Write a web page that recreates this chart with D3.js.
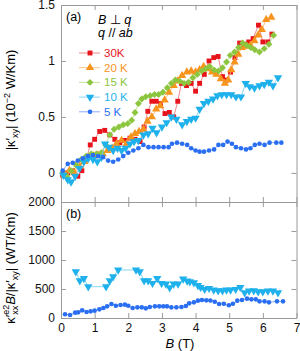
<!DOCTYPE html>
<html>
<head>
<meta charset="utf-8">
<script src="https://cdn.jsdelivr.net/npm/d3@7"></script>
<style>
  body { margin: 0; background: #fff; }
  svg { font-family: "Liberation Sans", Arial, sans-serif; }
  .axis path, .axis line { stroke: #9a9a9a; }
  .axis text { font-size: 12px; fill: #111; }
</style>
</head>
<body>
<svg id="chart"></svg>
<script>
// panel (a): |k'xy| vs B, in 10^-2 W/Km
const b30 = [0.05,0.2,0.35,0.5,0.62,0.75,0.87,1.0,1.15,1.3,1.45,1.6,1.75,1.9,2.05,2.2,2.35,2.47,2.58,2.7,2.83,2.96,3.09,3.22,3.35,3.47,3.58,3.73,3.87,4.0,4.12,4.26,4.4,4.54,4.67,4.8,4.92,5.04,5.17,5.31,5.46,5.58,5.71,5.87,6.0,6.15,6.27]
const k30 = [-0.02,0.0,0.02,-0.03,0.02,0.12,0.25,0.3,0.37,0.38,0.34,0.3,0.27,0.29,0.31,0.3,0.28,0.41,0.55,0.64,0.64,0.62,0.53,0.54,0.5,0.64,0.8,0.78,0.8,0.73,0.8,0.88,1.0,1.03,1.04,0.86,0.83,0.9,1.03,1.16,1.15,1.17,1.2,1.32,1.17,1.17,1.24]

const b20 = [0.1,0.25,0.4,0.56,0.7,0.83,0.97,1.1,1.24,1.38,1.52,1.65,1.8,1.95,2.08,2.2,2.32,2.45,2.57,2.7,2.83,2.95,3.08,3.21,3.35,3.47,3.6,3.74,3.87,4.0,4.12,4.24,4.36,4.49,4.62,4.75,4.87,4.97,5.06,5.16,5.27,5.38,5.5,5.63,5.75,5.86,5.97,6.1,6.25]
const k20 = [-0.02,0.02,0.0,0.06,0.1,0.14,0.15,0.16,0.17,0.2,0.22,0.26,0.29,0.26,0.32,0.35,0.37,0.39,0.46,0.5,0.57,0.6,0.65,0.72,0.78,0.82,0.87,0.9,0.91,0.9,0.92,0.95,0.93,0.9,0.88,0.84,0.8,0.83,0.92,0.99,1.06,1.12,1.13,1.14,1.18,1.23,1.28,1.37,1.39]

const b15 = [0.05,0.17,0.3,0.45,0.6,0.75,0.9,1.05,1.2,1.33,1.45,1.58,1.72,1.85,1.98,2.1,2.2,2.3,2.4,2.52,2.65,2.78,2.9,3.03,3.16,3.28,3.4,3.53,3.66,3.79,3.92,4.05,4.18,4.3,4.42,4.55,4.68,4.8,4.92,5.03,5.16,5.28,5.4,5.52,5.64,5.76,5.9,6.04,6.18,6.32]
const k15 = [0.0,-0.03,0.02,0.07,0.12,0.15,0.17,0.17,0.18,0.25,0.34,0.39,0.41,0.43,0.44,0.47,0.54,0.62,0.66,0.68,0.69,0.7,0.7,0.72,0.76,0.8,0.83,0.82,0.8,0.81,0.85,0.88,0.91,0.93,0.95,0.92,0.91,0.94,0.99,1.05,1.08,1.12,1.16,1.14,1.12,1.1,1.08,1.11,1.15,1.23]

const b10 = [0.07,0.2,0.3,0.42,0.55,0.68,0.81,0.95,1.08,1.2,1.31,1.42,1.55,1.68,1.8,1.92,2.05,2.17,2.3,2.45,2.59,2.72,2.84,3.0,3.14,3.28,3.43,3.6,3.74,3.87,4.0,4.12,4.25,4.38,4.52,4.65,4.78,4.92,5.06,5.2,5.35,5.49,5.61,5.75,5.9,6.04,6.18,6.3,6.45]
const k10 = [-0.02,-0.06,-0.08,-0.03,0.04,0.1,0.13,0.12,0.1,0.14,0.26,0.23,0.2,0.22,0.2,0.22,0.26,0.28,0.29,0.34,0.35,0.4,0.36,0.41,0.45,0.5,0.48,0.43,0.46,0.48,0.49,0.57,0.62,0.64,0.66,0.69,0.7,0.7,0.7,0.68,0.68,0.8,0.77,0.76,0.78,0.79,0.81,0.78,0.85]

const b5 = [0.05,0.2,0.35,0.5,0.65,0.8,0.95,1.1,1.25,1.4,1.55,1.7,1.85,2.0,2.15,2.3,2.45,2.6,2.75,2.9,3.05,3.2,3.3,3.45,3.6,3.75,3.87,4.0,4.12,4.25,4.4,4.55,4.68,4.82,4.95,5.08,5.2,5.35,5.5,5.63,5.76,5.9,6.05,6.2,6.4,6.55]
const k5 = [0.02,0.08,0.09,0.11,0.13,0.15,0.16,0.15,0.14,0.11,0.1,0.12,0.15,0.18,0.2,0.22,0.25,0.23,0.23,0.23,0.23,0.23,0.26,0.27,0.26,0.25,0.22,0.2,0.19,0.19,0.2,0.21,0.25,0.25,0.28,0.26,0.23,0.22,0.21,0.22,0.25,0.26,0.25,0.27,0.27,0.27]

// panel (b): k'xx^e2 B / |k'xy|, in WT/Km
const b10b = [0.44,0.56,0.68,0.81,1.34,1.45,1.55,1.7,2.23,2.34,2.47,2.59,2.72,2.86,2.99,3.12,3.23,3.35,3.48,3.63,3.75,3.83,3.95,4.07,4.15,4.27,4.4,4.54,4.67,4.8,4.92,5.04,5.19,5.33,5.46,5.59,5.73,5.86,6.0,6.15,6.3,6.45]
const r10 = [798,643,684,540,540,643,712,828,828,798,643,643,598,684,598,586,522,586,586,672,640,626,609,560,529,495,512,483,471,471,483,483,495,529,437,466,471,454,454,466,466,437]

const b5b = [0.12,0.27,0.42,0.51,0.63,0.76,0.88,1.0,1.14,1.26,1.37,1.5,1.63,1.77,1.9,2.0,2.13,2.27,2.4,2.52,2.64,2.79,2.92,3.04,3.15,3.28,3.43,3.58,3.71,3.81,3.95,4.07,4.19,4.32,4.44,4.57,4.7,4.84,4.99,5.11,5.24,5.38,5.53,5.66,5.79,5.9,6.05,6.18,6.42,6.6]
const r5 = [64,52,92,98,132,103,115,126,150,172,201,241,212,224,230,212,172,184,184,167,190,201,201,201,201,184,184,190,207,253,270,299,310,305,301,281,241,245,219,245,299,310,333,322,322,287,287,270,287,287]

const legendLabels = ['30K', '20 K', '15 K', '10 K', '5 K']
const xTicks = [0, 1, 2, 3, 4, 5, 6, 7]
const yTicksA = [0, 0.5, 1, 1.5]
const yTicksB = [0, 500, 1000, 1500, 2000]

const width = 300, height = 351
const left = 61, right = 296.5

const svg = d3.select('#chart').attr('width', width).attr('height', height)

const xScale = d3.scaleLinear().domain([0, 7]).range([left, right])
const yA = d3.scaleLinear().domain([-0.26, 1.5]).range([202, 5])
const yB = d3.scaleLinear().domain([0, 2000]).range([318, 202])

// marker styles per series
const sq = d3.symbol().type(d3.symbolSquare).size(24)()
const tri = d3.symbol().type(d3.symbolTriangle).size(30)()
const dia = d3.symbol().type(d3.symbolSquare).size(24)()
const circ = d3.symbol().type(d3.symbolCircle).size(17)()

const styles = [
    {color: '#e8141c', line: '#f07a7e', path: sq, rot: 0},
    {color: '#f7941d', line: '#f9bd78', path: tri, rot: 0},
    {color: '#8cc63f', line: '#bfe08f', path: dia, rot: 45},
    {color: '#1eb1ec', line: '#7ccff2', path: tri, rot: 180},
    {color: '#2a6ef2', line: '#80a6f6', path: circ, rot: 0}
]

function drawSeries(bs, vs, yScale, st) {
    const pts = bs.map((b, i) => [b, vs[i]])
    svg.append('path')
        .datum(pts)
        .attr('fill', 'none')
        .attr('stroke', st.line)
        .attr('stroke-width', 0.9)
        .attr('d', d3.line().x(d => xScale(d[0])).y(d => yScale(d[1])))
    svg.append('g').selectAll('path')
        .data(pts)
        .join('path')
            .attr('d', st.path)
            .attr('fill', st.color)
            .attr('transform', d => `translate(${xScale(d[0])},${yScale(d[1])}) rotate(${st.rot})`)
}

// frames / axes
function frame(yScale, ticks, showX, showY) {
    const yTop = yScale.range()[1], yBot = yScale.range()[0]
    svg.append('g').attr('class', 'axis')
        .attr('transform', `translate(${left},0)`)
        .call(d3.axisLeft(yScale).tickValues(ticks).tickSizeInner(-5).tickSizeOuter(0).tickPadding(6)
            .tickFormat(showY ? d3.format('') : ''))
    svg.append('g').attr('class', 'axis')
        .attr('transform', `translate(${right},0)`)
        .call(d3.axisRight(yScale).tickValues(ticks).tickSizeInner(-5).tickSizeOuter(0).tickFormat(''))
    svg.append('g').attr('class', 'axis')
        .attr('transform', `translate(0,${yTop})`)
        .call(d3.axisTop(xScale).tickValues(xTicks).tickSizeInner(-5).tickSizeOuter(0).tickFormat(''))
    svg.append('g').attr('class', 'axis')
        .attr('transform', `translate(0,${yBot})`)
        .call(d3.axisBottom(xScale).tickValues(xTicks).tickSizeInner(-5).tickSizeOuter(0).tickPadding(5)
            .tickFormat(showX ? d3.format('') : ''))
}

frame(yA, yTicksA, false, true)
frame(yB, yTicksB, true, true)

// panel (a) data
const setsA = [[b30, k30], [b20, k20], [b15, k15], [b10, k10], [b5, k5]]
setsA.forEach((s, i) => drawSeries(s[0], s[1], yA, styles[i]))

// panel (b) data
drawSeries(b10b, r10, yB, styles[3])
drawSeries(b5b, r5, yB, styles[4])

// legend
const legend = svg.append('g')
legendLabels.forEach((lab, i) => {
    const y = 53 + i * 14.7
    const st = styles[i]
    legend.append('line')
        .attr('x1', 79).attr('x2', 100).attr('y1', y).attr('y2', y)
        .attr('stroke', st.line).attr('stroke-width', 0.9)
    legend.append('path')
        .attr('d', st.path).attr('fill', st.color)
        .attr('transform', `translate(90,${y}) rotate(${st.rot})`)
    legend.append('text')
        .attr('x', 104).attr('y', y + 4)
        .attr('font-size', 11.5).attr('fill', st.color)
        .text(lab)
})

// annotations
svg.append('text').attr('x', 66).attr('y', 21).attr('font-size', 12.5).text('(a)')
svg.append('text').attr('x', 66).attr('y', 218).attr('font-size', 12.5).text('(b)')

const t1 = svg.append('text').attr('x', 98).attr('y', 24).attr('font-size', 12.5)
t1.append('tspan').attr('font-style', 'italic').text('B')
t1.append('tspan').text(' ⊥ ')
t1.append('tspan').attr('font-style', 'italic').text('q')

const t2 = svg.append('text').attr('x', 98).attr('y', 37).attr('font-size', 12.5)
t2.append('tspan').attr('font-style', 'italic').text('q')
t2.append('tspan').text(' // ')
t2.append('tspan').attr('font-style', 'italic').text('ab')

// x label
const xl = svg.append('text').attr('x', 180).attr('y', 348).attr('text-anchor', 'middle').attr('font-size', 13)
xl.append('tspan').attr('font-style', 'italic').text('B')
xl.append('tspan').text(' (T)')

// y label (a)
const ya = svg.append('text').attr('transform', 'translate(15,100) rotate(-90)')
    .attr('text-anchor', 'middle').attr('font-size', 13)
ya.append('tspan').text('|κ′')
ya.append('tspan').attr('font-size', 9).attr('dy', 3).text('xy')
ya.append('tspan').attr('dy', -3).text('| (10')
ya.append('tspan').attr('font-size', 9).attr('dy', -5).text('−2')
ya.append('tspan').attr('dy', 5).text(' W/Km)')

// y label (b)
const yb = svg.append('text').attr('transform', 'translate(15,268) rotate(-90)')
    .attr('text-anchor', 'middle').attr('font-size', 13)
yb.append('tspan').text('κ′')
yb.append('tspan').attr('font-size', 9).attr('dy', 3).text('xx')
yb.append('tspan').attr('font-size', 9).attr('dy', -9).attr('dx', -9).text('e2')
yb.append('tspan').attr('font-style', 'italic').attr('dy', 6).text('B')
yb.append('tspan').text('/|κ′')
yb.append('tspan').attr('font-size', 9).attr('dy', 3).text('xy')
yb.append('tspan').attr('dy', -3).text('| (WT/Km)')
</script>
</body>
</html>
